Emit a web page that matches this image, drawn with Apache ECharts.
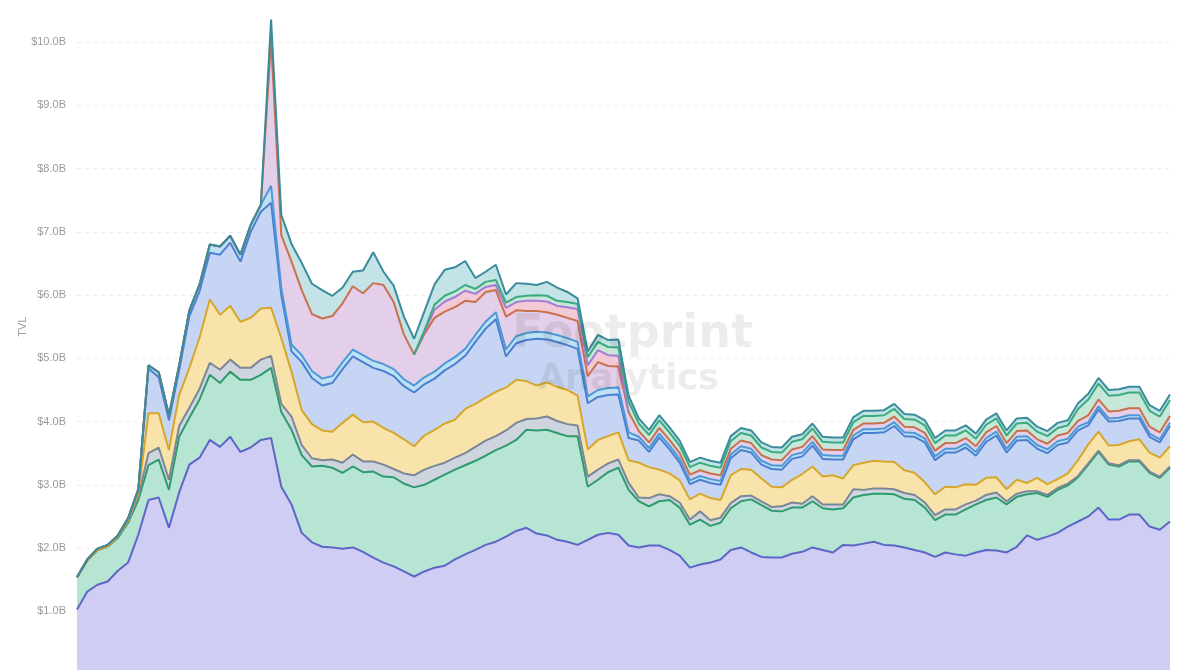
<!DOCTYPE html>
<html><head><meta charset="utf-8">
<script src="https://cdn.jsdelivr.net/npm/echarts@6.0.0/dist/echarts.min.js"></script>
<style>html,body{margin:0;padding:0;background:#fff;overflow:hidden;width:1184px;height:670px;position:relative;}#c{position:absolute;left:0;top:-30px;width:1184px;height:710px;}</style>
</head><body><div id="c"></div>
<script>
// ---- data (values in $B, per protocol, stacked; null = protocol not tracked) ----
const startDate = new Date(Date.UTC(2021, 7, 1));
const categories = [];
for (let i = 0; i < 108; i++) { const d = new Date(startDate.getTime() + i * 3 * 86400000); categories.push(d.toISOString().slice(0, 10)); }

const seriesNames = ['Protocol A','Protocol B','Protocol C','Protocol D','Protocol E','Protocol F','Protocol G','Protocol H','Protocol I','Protocol J'];
const yTicks = [0,1,2,3,4,5,6,7,8,9,10,11];

const protocolA = [1.03,1.31,1.42,1.47,1.64,1.77,2.21,2.76,2.80,2.32,2.88,3.32,3.43,3.71,3.60,3.76,3.52,3.59,3.71,3.74,
2.97,2.69,2.24,2.09,2.02,2.01,1.99,2.01,1.94,1.85,1.77,1.71,1.63,1.55,1.63,1.69,1.72,1.82,1.90,1.97,
2.05,2.10,2.18,2.27,2.32,2.23,2.20,2.13,2.10,2.05,2.13,2.21,2.24,2.21,2.04,
2.01,2.04,2.04,1.97,1.88,1.69,1.74,1.77,1.82,1.97,2.01,1.93,1.86,1.85,1.85,1.91,1.94,2.01,1.97,1.93,
2.05,2.04,2.07,2.10,2.05,2.04,2.01,1.97,1.93,1.86,1.93,1.90,1.88,1.93,1.97,1.96,1.93,2.02,2.20,2.13,
2.18,2.24,2.34,2.42,2.50,2.64,2.45,2.45,2.53,2.53,2.34,2.29,2.42];
const protocolB = [0.51,0.49,0.55,0.55,0.52,0.63,0.55,0.55,0.60,0.60,0.88,0.74,0.92,1.03,1.01,1.03,1.14,1.07,1.03,1.11,
1.18,1.18,1.23,1.20,1.28,1.26,1.20,1.28,1.26,1.36,1.36,1.41,1.39,1.41,1.37,1.39,1.44,1.42,1.41,1.41,
1.41,1.45,1.44,1.44,1.55,1.63,1.67,1.69,1.67,1.72,0.84,0.87,0.96,1.06,0.88,
0.73,0.62,0.70,0.79,0.76,0.68,0.71,0.58,0.58,0.66,0.73,0.84,0.82,0.74,0.73,0.73,0.70,0.73,0.66,0.68,
0.58,0.76,0.77,0.76,0.81,0.81,0.77,0.79,0.71,0.58,0.60,0.63,0.73,0.76,0.79,0.84,0.76,0.79,0.65,0.74,
0.63,0.68,0.65,0.70,0.82,0.88,0.87,0.84,0.84,0.84,0.85,0.82,0.85];
const protocolC = [0,0,0,0,0.02,0.02,0.05,0.19,0.19,0.16,0.17,0.16,0.17,0.19,0.21,0.19,0.19,0.19,0.24,0.19,
0.13,0.21,0.16,0.13,0.09,0.13,0.16,0.19,0.17,0.16,0.19,0.13,0.16,0.19,0.24,0.22,0.19,0.19,0.19,0.22,
0.24,0.22,0.24,0.27,0.17,0.19,0.21,0.19,0.19,0.17,0.16,0.16,0.14,0.13,0.11,
0.06,0.13,0.11,0.06,0.08,0.08,0.13,0.09,0.08,0.08,0.08,0.06,0.06,0.06,0.08,0.08,0.06,0.08,0.06,0.08,
0.06,0.13,0.08,0.08,0.08,0.08,0.09,0.08,0.08,0.08,0.08,0.08,0.08,0.06,0.08,0.08,0.05,0.05,0.05,0.03,
0.03,0.03,0.03,0.02,0.02,0.02,0.02,0.02,0.02,0.02,0.02,0.02,0.02];
const protocolD = [0,0,0,0,0,0.02,0.05,0.63,0.54,0.47,0.49,0.63,0.81,1.00,0.87,0.85,0.73,0.79,0.81,0.76,
1.04,0.71,0.55,0.54,0.47,0.44,0.63,0.63,0.62,0.63,0.58,0.57,0.54,0.46,0.54,0.57,0.62,0.60,0.70,0.68,
0.68,0.70,0.68,0.68,0.60,0.52,0.54,0.54,0.54,0.47,0.43,0.47,0.43,0.43,0.36,
0.55,0.49,0.39,0.36,0.35,0.32,0.28,0.35,0.28,0.44,0.43,0.41,0.36,0.32,0.30,0.36,0.47,0.47,0.44,0.46,
0.41,0.38,0.43,0.44,0.43,0.43,0.36,0.35,0.32,0.33,0.36,0.35,0.32,0.25,0.27,0.24,0.19,0.22,0.13,0.21,
0.17,0.14,0.16,0.25,0.30,0.30,0.28,0.32,0.30,0.33,0.30,0.30,0.32];
const protocolE = [0,0.02,0.02,0.03,0.02,0.03,0.05,0.71,0.57,0.47,0.39,0.82,0.73,0.74,0.95,1.00,0.95,1.36,1.53,1.66,
0.68,0.32,0.76,0.73,0.71,0.77,0.85,0.92,0.95,0.85,0.90,0.90,0.84,0.85,0.81,0.81,0.84,0.88,0.84,0.98,
1.09,1.15,0.49,0.58,0.65,0.74,0.68,0.71,0.71,0.74,0.73,0.68,0.65,0.60,0.35,
0.35,0.24,0.51,0.38,0.28,0.24,0.22,0.24,0.24,0.27,0.30,0.27,0.22,0.28,0.28,0.33,0.28,0.33,0.28,0.25,
0.30,0.41,0.47,0.44,0.46,0.57,0.54,0.57,0.63,0.54,0.54,0.55,0.58,0.46,0.57,0.66,0.58,0.62,0.68,0.46,
0.49,0.54,0.49,0.47,0.30,0.35,0.38,0.38,0.36,0.33,0.25,0.24,0.32];
const protocolF = [0,0,0,0,0,0,0.02,0.05,0.08,0.08,0.08,0.09,0.11,0.13,0.13,0.11,0.11,0.11,0.11,0.27,
0.11,0.11,0.11,0.11,0.11,0.11,0.11,0.11,0.11,0.11,0.11,0.11,0.11,0.11,0.11,0.11,0.11,0.11,0.11,0.11,
0.11,0.11,0.11,0.11,0.11,0.11,0.11,0.11,0.11,0.11,0.11,0.11,0.11,0.11,0.09,
0.06,0.06,0.06,0.06,0.06,0.06,0.06,0.06,0.06,0.06,0.06,0.06,0.06,0.06,0.06,0.06,0.06,0.06,0.06,0.06,
0.06,0.06,0.06,0.06,0.06,0.06,0.06,0.06,0.06,0.06,0.06,0.06,0.06,0.06,0.06,0.06,0.06,0.06,0.06,0.06,
0.06,0.06,0.06,0.06,0.05,0.05,0.05,0.05,0.05,0.05,0.05,0.05,0.05];
const protocolG = [0,0,0,0,0,0,0,0,0,0,0,0,0,0,0,0,0,0,0,2.31,
0.84,1.31,1.03,0.90,0.95,0.95,0.93,1.00,0.98,1.23,1.25,1.06,0.71,0.49,0.68,0.85,0.82,0.79,0.76,0.52,
0.47,0.35,0.52,0.41,0.35,0.33,0.32,0.32,0.32,0.33,0.32,0.44,0.35,0.33,0.32,
0.09,0.09,0.09,0.09,0.09,0.09,0.09,0.09,0.09,0.09,0.09,0.09,0.09,0.09,0.09,0.09,0.09,0.09,0.09,0.09,
0.09,0.09,0.09,0.09,0.09,0.09,0.09,0.09,0.09,0.09,0.09,0.09,0.09,0.09,0.09,0.09,0.09,0.09,0.09,0.09,
0.09,0.09,0.09,0.09,0.11,0.11,0.11,0.11,0.11,0.11,0.11,0.11,0.11];
const protocolH = [null,null,null,null,null,null,null,null,null,null,null,null,null,null,null,null,null,null,null,null,
null,null,null,null,null,null,null,null,null,null,null,null,null,0,0.03,0.13,0.16,0.16,0.16,0.13,
0.08,0.08,0.14,0.13,0.16,0.16,0.17,0.14,0.17,0.19,0.17,0.19,0.17,0.17,0,
null,null,null,null,null,null,null,null,null,null,null,null,null,null,null,null,null,null,null,null,
null,null,null,null,null,null,null,null,null,null,null,null,null,null,null,null,null,null,null,null,
null,null,null,null,null,null,null,null,null,null,null,null,null];
const protocolI = [null,null,null,null,null,null,null,null,null,null,null,null,null,null,null,null,null,null,null,null,
null,null,null,null,null,null,null,null,null,null,null,null,null,0,0.03,0.08,0.09,0.09,0.09,0.08,
0.08,0.08,0.08,0.08,0.08,0.09,0.09,0.08,0.08,0.08,0.13,0.13,0.13,0.13,0.17,
0.12,0.12,0.12,0.12,0.12,0.12,0.12,0.12,0.12,0.12,0.12,0.12,0.12,0.12,0.12,0.12,0.12,0.12,0.12,0.12,
0.12,0.12,0.12,0.12,0.12,0.12,0.12,0.12,0.12,0.12,0.12,0.12,0.12,0.12,0.12,0.12,0.12,0.12,0.12,0.12,
0.12,0.12,0.12,0.19,0.25,0.25,0.25,0.25,0.25,0.25,0.25,0.25,0.25];
const protocolJ = [0,0,0,0,0,0,0,0,0,0,0,0,0,0,0,0,0,0,0,0.32,
0.32,0.28,0.43,0.48,0.45,0.32,0.25,0.23,0.36,0.49,0.21,0.26,0.28,0.25,0.30,0.32,0.41,0.38,0.38,0.17,
0.16,0.24,0.13,0.22,0.19,0.16,0.22,0.21,0.16,0.09,0.09,0.11,0.11,0.13,0.09,
0.08,0.08,0.08,0.08,0.08,0.08,0.08,0.08,0.08,0.08,0.08,0.08,0.08,0.08,0.08,0.08,0.08,0.08,0.08,0.08,
0.08,0.08,0.08,0.08,0.08,0.08,0.08,0.08,0.08,0.08,0.08,0.08,0.08,0.08,0.08,0.08,0.08,0.08,0.08,0.08,
0.08,0.08,0.08,0.09,0.09,0.09,0.09,0.09,0.09,0.09,0.09,0.09,0.09];

const seriesData = [protocolA, protocolB, protocolC, protocolD, protocolE, protocolF, protocolG, protocolH, protocolI, protocolJ];
const lineColors = ['#5b66c6','#2e9b6e','#7b8797','#d7a72c','#4b7fd0','#4d98d6','#c9714c','#a57bd8','#3aaa7f','#3a8b9c'];
const fillColors = ['#cfcdf3','#b7e5d4','#cfd5df','#f8e3aa','#c6d5f3','#bfe1f5','#e3cfe9','#f3c9d6','#c7e7d9','#c3e3e6'];

const chart = echarts.init(document.getElementById('c'), null, {renderer: 'canvas'});

// container is shifted 30px up: page y = chart y - 30
chart.setOption({
  animation: false,
  backgroundColor: '#fff',
  grid: {left: 77, right: 14, top: 9, bottom: 5, containLabel: false},
  xAxis: {type: 'category', data: categories, boundaryGap: false, show: false},
  yAxis: {
    type: 'value', min: yTicks[0], max: yTicks[yTicks.length - 1], interval: 1,
    name: 'TVL', nameLocation: 'middle', nameGap: 49, nameRotate: 90, nameMoveOverlap: false,
    nameTextStyle: {color: '#9a9a9a', fontSize: 11, fontFamily: 'Liberation Sans'},
    axisLine: {show: false}, axisTick: {show: false},
    axisLabel: {color: '#9a9a9a', fontSize: 11, fontFamily: 'Liberation Sans', margin: 11,
      formatter: v => '$' + v.toFixed(1) + 'B'},
    splitLine: {lineStyle: {color: '#ececec', type: [4, 4]}}
  },
  series: seriesNames.map((n, k) => ({
    name: n, type: 'line', stack: 'tvl', data: seriesData[k], symbol: 'none', connectNulls: false,
    lineStyle: {width: 2, color: lineColors[k]}, itemStyle: {color: lineColors[k]},
    areaStyle: {color: fillColors[k], opacity: 1}, emphasis: {disabled: true}
  })),
  graphic: [
    {type: 'group', left: 420, top: 332, z: 100, children: [
      {type: 'circle', shape: {cx: 40, cy: 20, r: 14}, style: {fill: 'rgba(0,0,0,0.08)'}},
      {type: 'circle', shape: {cx: 72, cy: 30, r: 11}, style: {fill: 'rgba(0,0,0,0.08)'}},
      {type: 'circle', shape: {cx: 22, cy: 50, r: 12}, style: {fill: 'rgba(0,0,0,0.08)'}},
      {type: 'ellipse', shape: {cx: 60, cy: 72, rx: 22, ry: 14}, style: {fill: 'rgba(0,0,0,0.08)'}},
      {type: 'circle', shape: {cx: 95, cy: 58, r: 9}, style: {fill: 'rgba(0,0,0,0.08)'}}
    ]},
    {type: 'text', left: 512, top: 342, z: 100, style: {text: 'Footprint', fill: 'rgba(0,0,0,0.075)', font: 'bold 46px "DejaVu Sans"'}},
    {type: 'text', left: 538, top: 392, z: 100, style: {text: 'Analytics', fill: 'rgba(0,0,0,0.075)', font: 'bold 35px "DejaVu Sans"'}}
  ]
});
</script></body></html>
